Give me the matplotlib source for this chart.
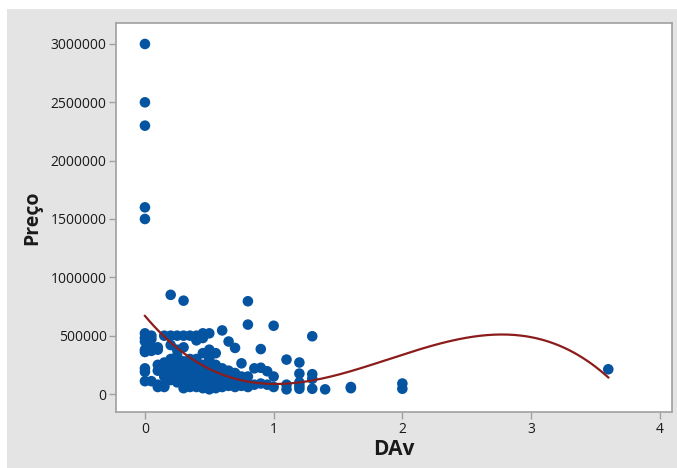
import numpy as np
import matplotlib.pyplot as plt
from matplotlib.patches import Rectangle

plt.rcParams['font.family'] = ['Open Sans', 'DejaVu Sans']

# DAv -> list of Preço values
dav_groups = {
    0.0: [3000000, 2500000, 2300000, 1600000, 1500000, 520000, 480000, 450000,
          380000, 360000, 220000, 190000, 110000],
    0.05: [500000, 470000, 400000, 370000, 110000],
    0.1: [400000, 380000, 250000, 200000, 80000, 60000],
    0.15: [500000, 270000, 230000, 150000, 70000, 60000],
    0.2: [850000, 500000, 420000, 300000, 260000, 220000, 180000, 120000],
    0.25: [500000, 380000, 330000, 300000, 250000, 200000, 150000, 100000],
    0.3: [800000, 500000, 400000, 280000, 200000, 150000, 100000, 50000],
    0.35: [500000, 300000, 240000, 180000, 120000, 90000, 60000],
    0.4: [500000, 460000, 300000, 250000, 200000, 150000, 100000, 60000],
    0.45: [520000, 480000, 350000, 250000, 180000, 140000, 110000, 70000, 50000],
    0.5: [520000, 380000, 300000, 220000, 170000, 130000, 90000, 60000, 40000],
    0.55: [350000, 250000, 180000, 150000, 120000, 80000, 50000],
    0.6: [545000, 220000, 180000, 140000, 100000, 80000, 60000],
    0.65: [450000, 200000, 150000, 110000, 70000],
    0.7: [395000, 180000, 130000, 90000, 60000],
    0.75: [263000, 150000, 100000, 70000],
    0.8: [795000, 595000, 150000, 90000, 60000],
    0.85: [220000, 80000],
    0.9: [385000, 225000, 90000],
    0.95: [195000, 80000],
    1.0: [585000, 150000, 60000],
    1.1: [295000, 80000, 40000],
    1.2: [270000, 175000, 100000, 70000, 45000],
    1.3: [495000, 170000, 130000, 45000],
    1.4: [40000],
    1.6: [50000, 60000],
    2.0: [90000, 45000],
    3.6: [212000],
}

# fitted line, points
curve_x = [0.0, 0.142, 0.375, 1.049, 1.282, 1.437, 1.515, 2.085, 2.76, 3.25, 3.61]
curve_y = [657000, 520000, 291000, 86000, 105000, 143000, 171000, 377000, 520000, 377000, 143000]

dav = []
preco = []
for k, vals in dav_groups.items():
    dav += [k] * len(vals)
    preco += vals

coef = np.polyfit(curve_x, curve_y, 3)
xs = np.linspace(0, 3.6, 200)
ys = np.polyval(coef, xs)

fig = plt.figure(figsize=(6.77, 4.68), dpi=100)
fig.patch.set_facecolor('white')
fig.patches.append(Rectangle((7 / 677, 0), 1, 1 - 9 / 468, transform=fig.transFigure,
                             facecolor='#e4e4e4', edgecolor='none', zorder=-10))

ax = fig.add_axes([0.172, 0.1197, 0.9926 - 0.172, 0.9509 - 0.1197])
ax.set_facecolor('white')
ax.scatter(dav, preco, s=58, color='#0554a2', edgecolors='none', zorder=2)
ax.plot(xs, ys, color='#8c1c1c', lw=1.6, zorder=3)

ax.set_xlim(-0.2214, 4.095)
ax.set_ylim(-154000, 3180000)
ax.set_xticks([0, 1, 2, 3, 4])
ax.set_yticks([0, 500000, 1000000, 1500000, 2000000, 2500000, 3000000])
ax.set_yticklabels(['0', '500000', '1000000', '1500000', '2000000', '2500000', '3000000'])

for s in ax.spines.values():
    s.set_color('#a0a0a0')
    s.set_linewidth(1.2)
ax.tick_params(axis='both', colors='#a0a0a0', labelcolor='#1a1a1a', length=5,
               width=1, labelsize=10, pad=2)

ax.set_xlabel('DAv', fontsize=15, fontweight='bold', color='#1a1a1a', labelpad=2)
ax.set_ylabel('Preço', fontsize=14, fontweight='bold', color='#1a1a1a', labelpad=6)

fig.savefig('out.png', dpi=100)
